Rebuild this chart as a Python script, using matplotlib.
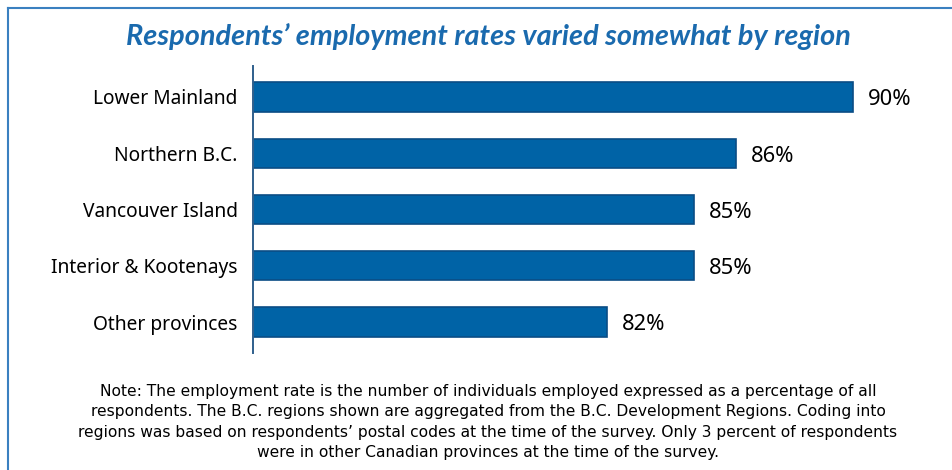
import matplotlib.pyplot as plt
from matplotlib.lines import Line2D

regions = ['Lower Mainland', 'Northern B.C.', 'Vancouver Island',
           'Interior & Kootenays', 'Other provinces']
rates = [90.0, 86.1, 84.7, 84.7, 81.8]

title = 'Respondents\u2019 employment rates varied somewhat by region'
note = ('Note: The employment rate is the number of individuals employed expressed as a percentage of all\n'
        'respondents. The B.C. regions shown are aggregated from the B.C. Development Regions. Coding into\n'
        'regions was based on respondents\u2019 postal codes at the time of the survey. Only 3 percent of respondents\n'
        'were in other Canadian provinces at the time of the survey.')

BAR = '#0063a6'
EDGE = '#0a4d85'
TITLE_C = '#1a6aae'
LABEL_FONT = ['Noto Sans', 'DejaVu Sans']

fig = plt.figure(figsize=(9.52, 4.70), dpi=100)
ax = fig.add_axes([253 / 952, 1 - 353 / 470, 667 / 952, 287 / 470])

ypos = list(range(len(regions)))
ax.barh(ypos, rates, height=0.52, left=0, color=BAR, edgecolor=EDGE, linewidth=1.2)
ax.set_xlim(70, 70 + 667 / 30)
ax.set_ylim(4.55, -0.55)

for y, v in zip(ypos, rates):
    ax.annotate(f'{round(v)}%', (v, y + 0.05), xytext=(11, 0), textcoords='offset points',
                va='center', ha='left', fontsize=15.8, family=LABEL_FONT)

ax.set_yticks(ypos)
ax.set_yticklabels(regions, fontsize=13.8, family=LABEL_FONT)
ax.tick_params(axis='y', length=0, pad=11)
ax.set_xticks([])
for s in ['top', 'right', 'bottom']:
    ax.spines[s].set_visible(False)
ax.spines['left'].set_color('#2f5f8c')
ax.spines['left'].set_linewidth(1.4)

fig.text(488 / 952, 1 - 37 / 470, title, ha='center', va='center', fontsize=20.8,
         fontweight='bold', fontstyle='italic', color=TITLE_C, family=['Lato', 'DejaVu Sans'])

fig.text(488 / 952, 1 - 422 / 470, note, ha='center', va='center', fontsize=11.2,
         linespacing=1.42, family=['Liberation Sans Narrow', 'DejaVu Sans'])

# frame around the figure (top and left edges visible)
fig.add_artist(Line2D([8 / 952, 1], [1 - 8 / 470, 1 - 8 / 470], transform=fig.transFigure,
                      color='#3a80c0', linewidth=1.5))
fig.add_artist(Line2D([8 / 952, 8 / 952], [0, 1 - 8 / 470], transform=fig.transFigure,
                      color='#3a80c0', linewidth=1.5))

fig.savefig('out.png', dpi=100)
